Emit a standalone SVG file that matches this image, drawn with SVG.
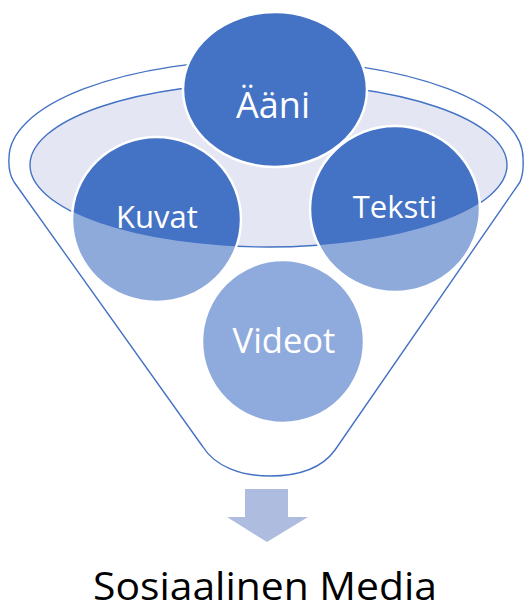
<svg xmlns="http://www.w3.org/2000/svg" width="525" height="606" viewBox="0 0 525 606">
  <style>
    .rim { fill: #ffffff; stroke: #4472C4; stroke-width: 1.4; stroke-linejoin: round; }
    .mouth { fill: #E4E7F3; stroke: #4472C4; stroke-width: 1.4; }
    .ball { fill: #4472C4; stroke: #ffffff; stroke-width: 2.5; }
    .ball-front { fill: #8FAADC; stroke: #ffffff; stroke-width: 2.5; }
    .veil { fill: #ffffff; fill-opacity: 0.4; }
    .lbl { font-family: "Open Sans", "Liberation Sans", sans-serif; fill: #ffffff; text-anchor: middle; }
    .out { font-family: "Open Sans", "Liberation Sans", sans-serif; fill: #000000; font-size: 39px; }
    .flow { fill: #AEBCE0; }
  </style>
  <defs>
    <!-- front half of the funnel: everything below the lower edge of the mouth -->
    <clipPath id="front">
      <path d="M0,165 L30,165 A238.5 82 0 0 0 507,165 L525,165 L525,606 L0,606 Z"/>
    </clipPath>
  </defs>

  <rect width="525" height="606" fill="#ffffff"/>

  <!-- funnel body and its open mouth -->
  <g id="funnel">
    <path class="rim" d="M14,182 Q8,172 9,158 A257 98 0 0 1 523,158 Q524,172 520,182 L335,450 C322,468 298,476 270,476 C240,476 215,466 203,447 Z"/>
    <ellipse class="mouth" cx="268.5" cy="165" rx="238.5" ry="82"/>
  </g>

  <g id="node-kuvat">
    <ellipse class="ball" cx="156.5" cy="219.5" rx="84.5" ry="82.5"/>
    <ellipse class="veil" cx="156.5" cy="219.5" rx="84.5" ry="82.5" clip-path="url(#front)"/>
    <text class="lbl" x="157" y="228" font-size="31">Kuvat</text>
  </g>

  <g id="node-teksti">
    <ellipse class="ball" cx="395" cy="209" rx="85" ry="83"/>
    <ellipse class="veil" cx="395" cy="209" rx="85" ry="83" clip-path="url(#front)"/>
    <text class="lbl" x="395" y="218" font-size="31">Teksti</text>
  </g>

  <g id="node-aani">
    <ellipse class="ball" cx="275" cy="89.5" rx="92" ry="77.5"/>
    <text class="lbl" x="273" y="118" font-size="36">Ääni</text>
  </g>

  <g id="node-videot">
    <ellipse class="ball-front" cx="283" cy="341.5" rx="81" ry="81.5"/>
    <text class="lbl" x="284" y="353" font-size="34.5">Videot</text>
  </g>

  <g id="connectors">
    <path class="flow" d="M245,489 L288,489 L288,517 L308,517 L267,542 L227,517 L245,517 Z"/>
  </g>

  <g id="node-result">
    <text class="out" x="93" y="600" textLength="344" lengthAdjust="spacingAndGlyphs">Sosiaalinen Media</text>
  </g>
</svg>
